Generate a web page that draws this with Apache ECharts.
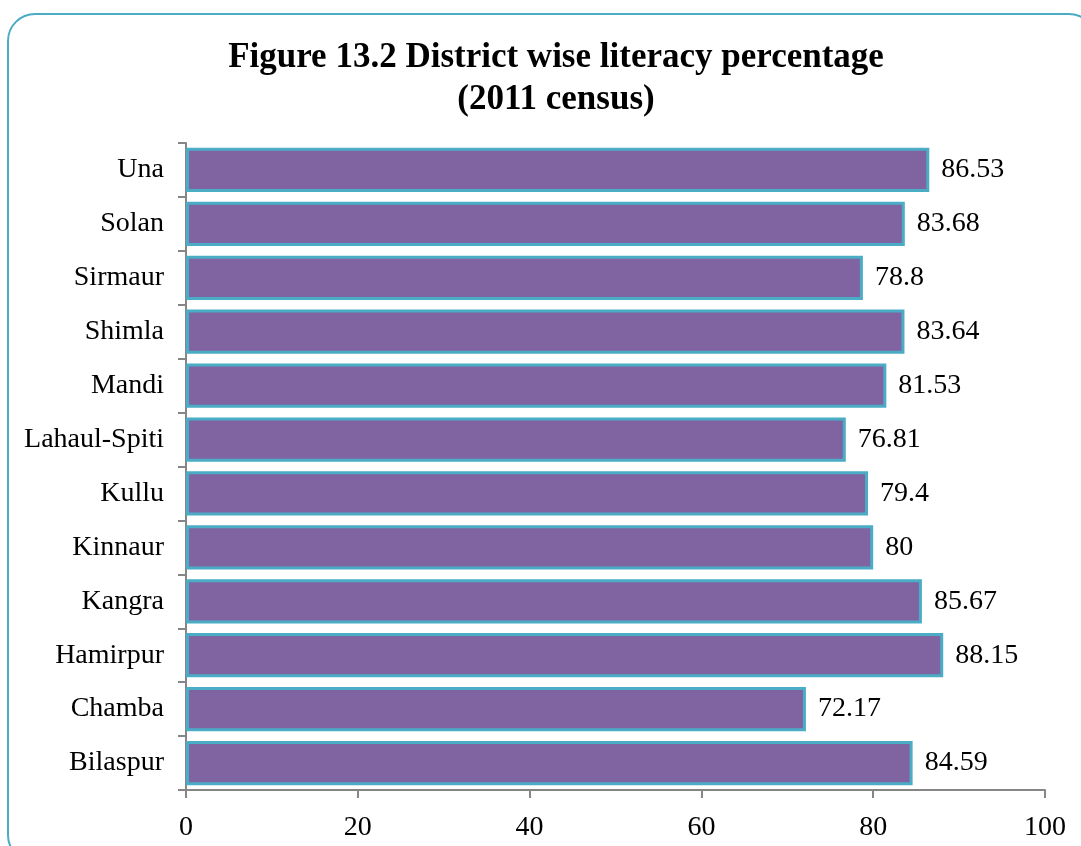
<!DOCTYPE html>
<html><head><meta charset="utf-8">
<script src="https://cdn.jsdelivr.net/npm/echarts@6/dist/echarts.min.js"></script>
<style>html,body{margin:0;padding:0;background:#fff;}#c{width:1081px;height:846px;}
#frame{position:absolute;left:7px;top:13px;width:1090px;height:850px;border:2.5px solid #4BACC6;border-radius:28px;box-sizing:border-box;pointer-events:none;}</style>
</head><body>
<div id="c"></div><div id="frame"></div>
<script>
const categories = ["Bilaspur","Chamba","Hamirpur","Kangra","Kinnaur","Kullu","Lahaul-Spiti","Mandi","Shimla","Sirmaur","Solan","Una"];
const literacy = [84.59,72.17,88.15,85.67,80,79.4,76.81,81.53,83.64,78.8,83.68,86.53];
const titleLines = ["Figure 13.2 District wise literacy percentage","(2011 census)"];
const font = "'Liberation Serif','Times New Roman',serif";
const chart = echarts.init(document.getElementById('c'), null, {renderer:'canvas'});
chart.setOption({
  animation:false,
  title:{text:titleLines.join("\n"),left:551,textAlign:'center',top:32,
    textStyle:{fontFamily:font,fontWeight:'bold',fontSize:35,color:'#000',lineHeight:42}},
  grid:{left:186,right:36,top:143,bottom:56,containLabel:false},
  xAxis:{type:'value',min:0,max:100,interval:20,
    axisLine:{show:true,lineStyle:{color:'#868686',width:2}},
    axisTick:{show:true,length:8,lineStyle:{color:'#868686',width:2}},
    splitLine:{show:false},
    axisLabel:{fontFamily:font,fontSize:28,color:'#000',margin:24}},
  yAxis:{type:'category',data:categories,
    axisLine:{show:true,lineStyle:{color:'#868686',width:2}},
    axisTick:{show:true,length:8,alignWithLabel:false,lineStyle:{color:'#868686',width:2}},
    axisLabel:{fontFamily:font,fontSize:28,color:'#000',margin:22,padding:[6,0,0,0]}},
  series:[{type:'bar',data:literacy,barCategoryGap:'18%',
    itemStyle:{color:'#8064A2',borderColor:'#4BACC6',borderWidth:3},
    label:{show:true,position:'right',distance:12,fontFamily:font,fontSize:28,color:'#000',padding:[6,0,0,0]}}]
});
</script>
</body></html>
